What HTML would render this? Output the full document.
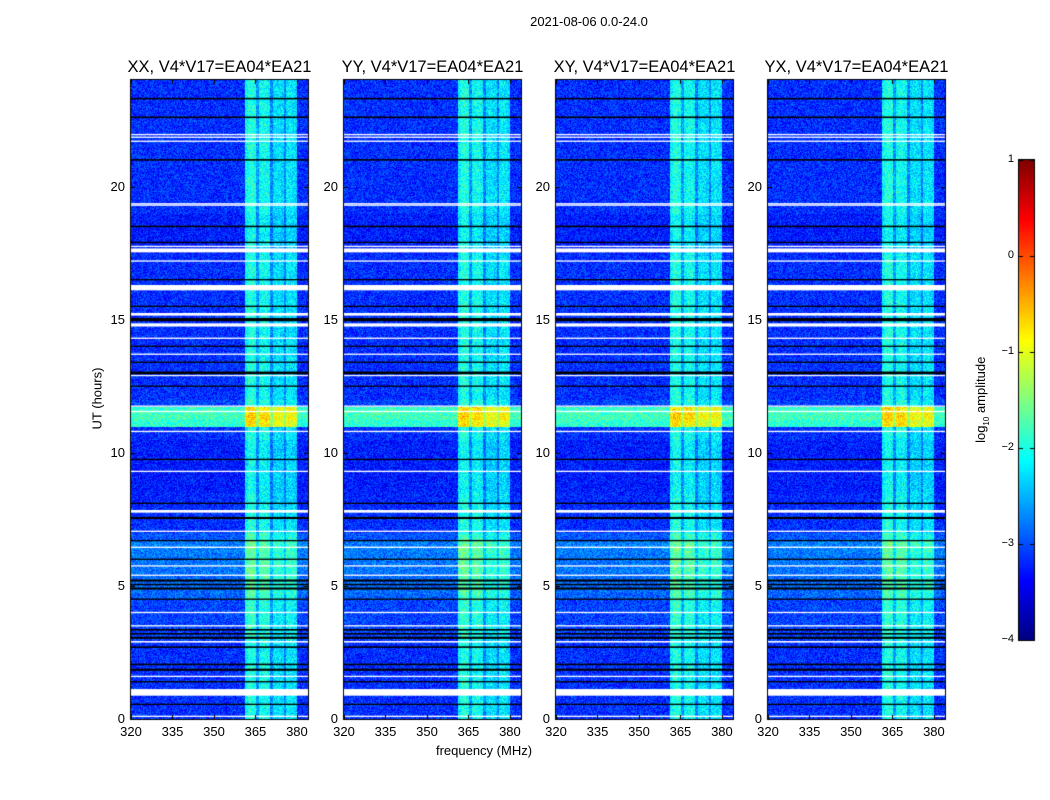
<!DOCTYPE html>
<html><head><meta charset="utf-8">
<style>
body{margin:0;background:#fff;width:1050px;height:800px;overflow:hidden;font-family:"Liberation Sans",sans-serif;}
#root{position:relative;width:1050px;height:800px;}
.t{position:absolute;color:#000;white-space:nowrap;}
canvas{position:absolute;}
</style></head>
<body><div id="root">
<div class="t" style="left:489px;top:14px;width:200px;text-align:center;font-size:13px;">2021-08-06 0.0-24.0</div>
<div class="t" style="left:384px;top:743px;width:200px;text-align:center;font-size:13px;">frequency (MHz)</div>
<div class="t" style="left:47px;top:391px;width:100px;text-align:center;font-size:13px;transform:rotate(-90deg);">UT (hours)</div>
<div class="t" style="left:922px;top:391px;width:120px;text-align:center;font-size:13px;transform:rotate(-90deg);">log<sub style="font-size:8px">10</sub> amplitude</div>
<canvas id="cv" width="1050" height="800"></canvas>
</div>
<script>
// ---- data ----
const panelTitles = ["XX, V4*V17=EA04*EA21","YY, V4*V17=EA04*EA21","XY, V4*V17=EA04*EA21","YX, V4*V17=EA04*EA21"];
const xTicks = [320,335,350,365,380];
const yTicks = [0,5,10,15,20];
const cbTicks = [1,0,-1,-2,-3,-4];
// per 1 MHz channel from 320 to 384 (log10 amplitude)
const channelLevel = [
-3.15,-3.15,-3.15,-3.15,-3.15,-3.15,-3.15,-3.15,-3.15,-3.15,
-3.15,-3.15,-3.15,-3.15,-3.15,-3.15,-3.15,-3.15,-3.15,-3.15,
-3.15,-3.15,-3.15,-3.15,-3.15,-3.15,-3.15,-3.15,-3.15,-3.15,
-3.15,-3.15,-3.15,-3.15,-3.15,-3.15,-3.15,-3.15,-3.15,-3.15,
-3.15,-2.1,-1.95,-1.95,-2.0,-2.6,-2.1,-2.05,-2.05,-2.1,
-2.7,-2.3,-2.25,-2.25,-2.3,-2.7,-2.2,-2.2,-2.25,-2.3,
-3.15,-3.15,-3.15,-3.15];
// per 0.25 h time bin offset, 0..24 h
const timeLevel = [
0,0,0,0,0,0,0,0,0,0,0,0,0.1,0.1,0.1,0.1,0.1,0.1,0.25,0.3,
0.3,0.3,0.35,0.35,0.35,0.4,0.4,0.2,0,0,0,0,-0.05,-0.05,-0.1,-0.1,-0.1,-0.1,-0.1,-0.1,
-0.1,-0.1,0,0,1.25,1.35,1.3,0.1,0,0,0,0,0,0,0,0,0,0,0,0,
0,0,0,0,0,0,0,0,0,0,-0.1,-0.1,-0.1,-0.1,-0.1,-0.1,0,0,0,0,
0,0,0,0,0,0,0,0,0,0,0,0,0,0,0,0];
// flagged rows: [hour, thickness (h), color]
const flagHours = [1.0,0.1,0.55,1.4,1.6,1.85,2.05,2.7,2.9,3.05,3.2,3.35,3.5,4.0,4.5,4.9,5.05,5.2,5.4,5.75,6.0,6.45,6.7,7.05,7.55,7.8,8.1,9.3,9.75,10.8,11.55,11.75,12.5,12.9,13.0,13.4,13.7,14.0,14.3,14.8,15.0,15.2,15.5,16.2,16.5,17.2,17.6,17.75,17.9,18.5,19.3,19.35,21.0,21.7,21.85,21.95,22.6,23.3];
const flagWidth = [0.25,0.05,0.05,0.05,0.05,0.08,0.06,0.06,0.06,0.08,0.06,0.06,0.05,0.05,0.05,0.08,0.06,0.08,0.05,0.05,0.05,0.05,0.05,0.05,0.08,0.1,0.05,0.05,0.05,0.05,0.05,0.05,0.05,0.05,0.1,0.05,0.05,0.05,0.05,0.12,0.12,0.1,0.05,0.2,0.05,0.05,0.15,0.05,0.05,0.06,0.05,0.05,0.06,0.05,0.05,0.05,0.06,0.06];
const flagColor = ["w","w","k","k","w","k","k","k","w","k","k","k","w","w","k","k","k","k","w","w","k","w","k","w","k","w","k","w","k","w","w","w","k","w","k","k","w","k","w","w","k","w","k","w","k","w","w","w","k","k","w","w","k","w","w","w","k","k"];
// ---- layout ----
const panelX = [131,344,556,768], PW = 177, PT = 80, PB = 719;
const fmin = 320, fmax = 384, hmin = 0, hmax = 24;
function xs(p,f){return panelX[p] + (f-fmin)/(fmax-fmin)*PW;}
function ys(h){return PB - (h-hmin)/(hmax-hmin)*(PB-PT);}
function jet(v){const t=Math.max(0,Math.min(1,(v+4)/5));
 const c=x=>Math.max(0,Math.min(1,x));
 return [c(1.5-Math.abs(4*t-3))*255,c(1.5-Math.abs(4*t-2))*255,c(1.5-Math.abs(4*t-1))*255];}
function tex(i,j){let n=(i*374761393+j*668265263)|0;n=(n^(n>>>13))*1274126177|0;return ((n>>>0)%1000)/1000-0.5;}
const cv=document.getElementById('cv'),ctx=cv.getContext('2d');
const root=document.getElementById('root');
const img=ctx.createImageData(1050,800);
for(let p=0;p<4;p++){
 for(let py=PT;py<PB;py++){
  const h=(PB-py)/(PB-PT)*(hmax-hmin)+hmin;
  const tb=Math.min(timeLevel.length-1,Math.floor(h/0.25));
  for(let px=panelX[p];px<panelX[p]+PW;px++){
   const f=fmin+(px-panelX[p])/PW*(fmax-fmin);
   const cb=Math.min(channelLevel.length-1,Math.floor(f-fmin));
   const v=channelLevel[cb]+timeLevel[tb]+tex(px,py)*0.7;
   const c=jet(v),k=(py*1050+px)*4;
   img.data[k]=c[0];img.data[k+1]=c[1];img.data[k+2]=c[2];img.data[k+3]=255;
  }
 }
}
// colorbar
for(let py=160;py<640;py++){const v=1-(py-160)/96;const c=jet(v);
 for(let px=1019;px<1034;px++){const k=(py*1050+px)*4;img.data[k]=c[0];img.data[k+1]=c[1];img.data[k+2]=c[2];img.data[k+3]=255;}}
ctx.putImageData(img,0,0);
for(let p=0;p<4;p++){
 for(let i=0;i<flagHours.length;i++){
  ctx.fillStyle=flagColor[i]==="w"?"#fff":"#000";
  const y1=ys(flagHours[i]+flagWidth[i]/2),y2=ys(flagHours[i]-flagWidth[i]/2);
  ctx.fillRect(panelX[p],y1,PW,Math.max(1,y2-y1));
 }
 ctx.strokeStyle="#000";ctx.lineWidth=1;
 ctx.strokeRect(panelX[p]-0.5,PT-0.5,PW+1,PB-PT+1);
 ctx.beginPath();
 xTicks.forEach(t=>{const x=Math.round(xs(p,t))+0.5;ctx.moveTo(x,PB);ctx.lineTo(x,PB-4);ctx.moveTo(x,PT);ctx.lineTo(x,PT+4);});
 yTicks.forEach(t=>{const y=Math.round(ys(t))+0.5;ctx.moveTo(panelX[p],y);ctx.lineTo(panelX[p]+4,y);ctx.moveTo(panelX[p]+PW,y);ctx.lineTo(panelX[p]+PW-4,y);});
 ctx.stroke();
 const tt=document.createElement('div');tt.className='t';
 
 
 tt.style.cssText=`left:${panelX[p]-30}px;top:58px;width:${PW+60}px;text-align:center;font-size:16.5px;`;
 tt.textContent=panelTitles[p];root.appendChild(tt);
 xTicks.forEach(t=>{const d=document.createElement('div');d.className='t';
  
  
  d.style.cssText=`left:${xs(p,t)-20}px;top:724px;width:40px;text-align:center;font-size:13px;`;d.textContent=t;root.appendChild(d);});
 yTicks.forEach(t=>{const d=document.createElement('div');d.className='t';
  
  
  d.style.cssText=`left:${panelX[p]-40}px;top:${ys(t)-8}px;width:34px;text-align:right;font-size:13px;`;d.textContent=t;root.appendChild(d);});
}
ctx.strokeStyle="#000";ctx.strokeRect(1018.5,159.5,16,481);
ctx.beginPath();
cbTicks.forEach(t=>{const y=Math.round(160+(1-t)*96)+0.5;ctx.moveTo(1019,y);ctx.lineTo(1023,y);ctx.moveTo(1034,y);ctx.lineTo(1030,y);
 const d=document.createElement('div');d.className='t';
 
 
 d.style.cssText=`left:980px;top:${y-8}px;width:34px;text-align:right;font-size:11px;`;d.textContent=t<0?"\u2212"+(-t):t;root.appendChild(d);});
ctx.stroke();
</script>
</body></html>
